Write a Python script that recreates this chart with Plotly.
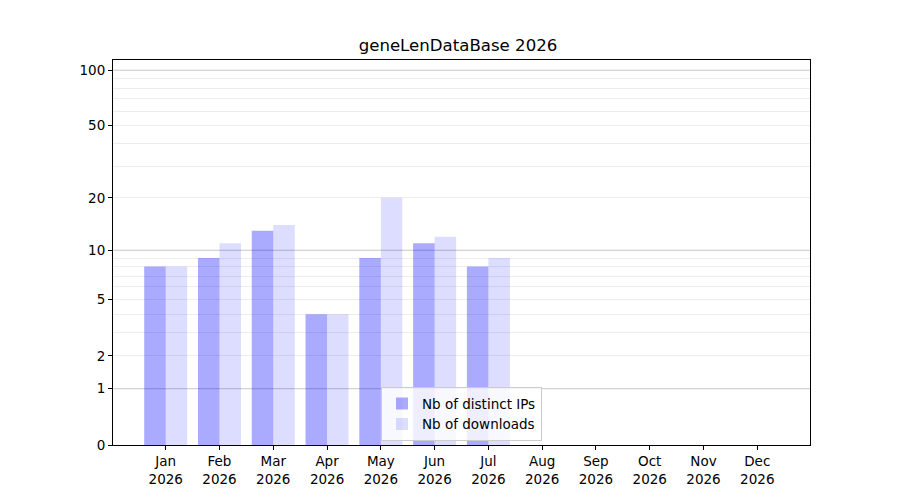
import numpy as np
import plotly.graph_objects as go

months = ["Jan", "Feb", "Mar", "Apr", "May", "Jun", "Jul", "Aug", "Sep", "Oct", "Nov", "Dec"]
year = "2026"
distinct_ips = [8, 9, 13, 4, 9, 11, 8, 0, 0, 0, 0, 0]
downloads = [8, 11, 14, 4, 20, 12, 9, 0, 0, 0, 0, 0]

y_ticks = [0, 1, 2, 5, 10, 20, 50, 100]
minor_ticks = [2, 3, 4, 5, 6, 7, 8, 9, 20, 30, 40, 50, 60, 70, 80, 90]
major_grid = [1, 10, 100]


def tr(v):
    # log(1 + x) scale, like the original
    return np.log10(1 + np.asarray(v, dtype=float))


x = np.arange(len(months))
fig = go.Figure()
fig.add_trace(go.Bar(x=x, y=tr(distinct_ips), width=0.4, offset=-0.4,
                     name="Nb of distinct IPs", customdata=distinct_ips,
                     hovertemplate="%{customdata}<extra></extra>",
                     marker=dict(color="rgba(0,0,255,0.333)", line=dict(width=0))))
fig.add_trace(go.Bar(x=x, y=tr(downloads), width=0.4, offset=0,
                     name="Nb of downloads", customdata=downloads,
                     hovertemplate="%{customdata}<extra></extra>",
                     marker=dict(color="rgba(0,0,255,0.133)", line=dict(width=0))))

for v in major_grid:
    fig.add_shape(type="line", xref="paper", yref="y", x0=0, x1=1, y0=tr(v), y1=tr(v),
                  line=dict(color="#c8c8c8", width=1), layer="below")

fig.update_layout(
    width=900, height=500,
    title=dict(text="geneLenDataBase 2026", x=0.5, xanchor="center", y=0.915, yanchor="bottom",
               font=dict(size=16.6, color="black")),
    font=dict(family="DejaVu Sans", size=13.5, color="black"),
    paper_bgcolor="white", plot_bgcolor="white",
    margin=dict(l=105, r=98, t=52, b=63),
    barmode="overlay",
    showlegend=True,
    legend=dict(x=0.5, y=0.01, xanchor="center", yanchor="bottom",
                bgcolor="rgba(255,255,255,0.8)", bordercolor="#cccccc", borderwidth=1,
                font=dict(size=13.5), tracegroupgap=0),
    xaxis=dict(range=[-0.98, 11.98], tickmode="array", tickvals=x,
               ticktext=[f"{m}<br>{year}" for m in months],
               showgrid=False, zeroline=False, showline=True, linecolor="black", linewidth=1,
               mirror=True, ticks="outside", ticklen=4, tickcolor="black"),
    yaxis=dict(range=[0, 2.059], tickmode="array", tickvals=tr(y_ticks),
               ticktext=[str(t) for t in y_ticks],
               showgrid=False, zeroline=False, showline=True, linecolor="black", linewidth=1,
               mirror=True, ticks="outside", ticklen=4, tickcolor="black",
               minor=dict(tickmode="array", tickvals=tr(minor_ticks), showgrid=True,
                          gridcolor="#ededed", gridwidth=1, ticks="")),
)

fig.write_html("out.html")
